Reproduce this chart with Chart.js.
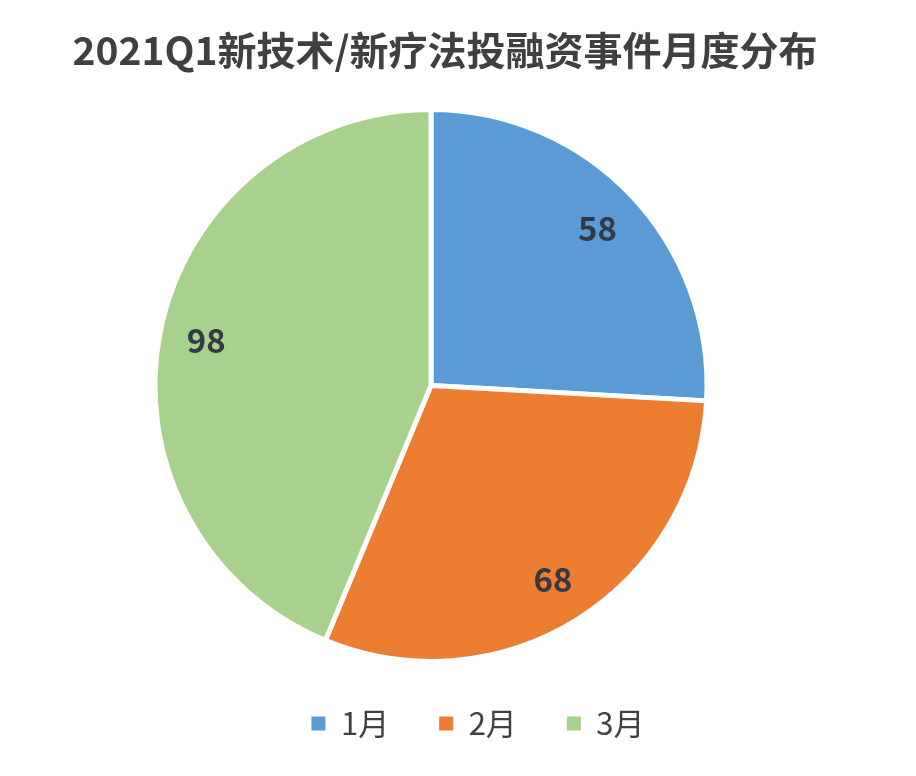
<!DOCTYPE html>
<html>
<head>
<meta charset="utf-8">
<script src="https://cdn.jsdelivr.net/npm/chart.js@4/dist/chart.umd.min.js"></script>
<style>
html,body{margin:0;padding:0;background:#fff;}
#wrap{width:916px;height:776px;}
</style>
</head>
<body>
<div id="wrap"><canvas id="c" width="916" height="776"></canvas></div>
<script>
const categories = ["1月", "2月", "3月"];
const values = [58, 68, 98];
const colors = ["#5B9BD5", "#ED7D31", "#A9D18E"];
const titleText = "2021Q1新技术/新疗法投融资事件月度分布";

const FONT = "'Noto Sans CJK SC', 'Noto Sans', sans-serif";

const shiftPlugin = {
  id: 'shiftBoxes',
  afterLayout(chart) {
    const t = chart.titleBlock;
    if (t) { t.left += 14; t.right += 14; }
    const l = chart.legend;
    if (l) { l.left += 47; l.right += 47; }
  }
};

const labelPlugin = {
  id: 'sliceLabels',
  afterDatasetsDraw(chart) {
    const ctx = chart.ctx;
    const meta = chart.getDatasetMeta(0);
    ctx.save();
    ctx.font = "bold 33px " + FONT;
    ctx.fillStyle = "#333a44";
    ctx.textAlign = "center";
    ctx.textBaseline = "middle";
    meta.data.forEach((arc, i) => {
      const p = arc.getProps(['x', 'y', 'startAngle', 'endAngle', 'outerRadius'], true);
      const mid = (p.startAngle + p.endAngle) / 2;
      const r = p.outerRadius * 0.83;
      ctx.fillText(String(chart.data.datasets[0].data[i]), p.x + Math.cos(mid) * r, p.y + Math.sin(mid) * r);
    });
    ctx.restore();
  }
};

new Chart(document.getElementById('c'), {
  type: 'pie',
  data: {
    labels: categories,
    datasets: [{
      data: values,
      backgroundColor: colors,
      borderColor: "#ffffff",
      borderWidth: 5
    }]
  },
  options: {
    responsive: false,
    animation: false,
    radius: 276,
    layout: { padding: { left: 0, right: 54, top: 0, bottom: 27 } },
    plugins: {
      tooltip: { enabled: false },
      title: {
        display: true,
        text: titleText,
        color: "#404040",
        font: { family: FONT, size: 39, weight: 'bold', lineHeight: 1.2 },
        padding: { top: 27, bottom: 39 }
      },
      legend: {
        display: true,
        position: 'bottom',
        labels: {
          color: "#404040",
          font: { family: FONT, size: 31 },
          boxWidth: 14,
          boxHeight: 14,
          padding: 50,
          generateLabels(chart) {
            const items = Chart.overrides.pie.plugins.legend.labels.generateLabels(chart);
            return items.map(it => Object.assign(it, { lineWidth: 0, strokeStyle: 'rgba(0,0,0,0)' }));
          }
        }
      }
    }
  },
  plugins: [shiftPlugin, labelPlugin]
});
</script>
</body>
</html>
